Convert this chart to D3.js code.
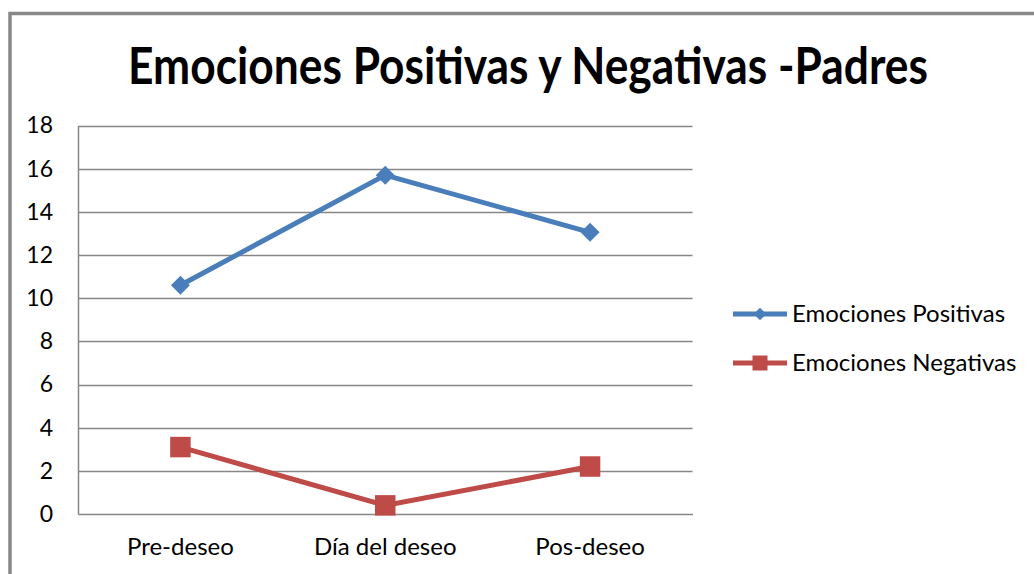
<!DOCTYPE html>
<html>
<head>
<meta charset="utf-8">
<script src="https://cdn.jsdelivr.net/npm/d3@7"></script>
<style>
  body { margin: 0; background: #fff; }
  svg { display: block; }
  .axis text { font-family: Lato, "Open Sans", sans-serif; fill: #000; }
</style>
</head>
<body>
<svg id="chart" width="1034" height="574"></svg>
<script>
// data
var categories = ['Pre-deseo', 'Día del deseo', 'Pos-deseo'];
var positivas = [10.6, 15.7, 13.05];
var negativas = [3.1, 0.4, 2.2];
var yTicks = [0, 2, 4, 6, 8, 10, 12, 14, 16, 18];
var seriesNames = ['Emociones Positivas', 'Emociones Negativas'];
var title = 'Emociones Positivas y Negativas -Padres';

var svg = d3.select('#chart');

var plot = { left: 78, top: 125.5, right: 692.5, bottom: 514 };

var x = d3.scaleBand()
  .domain(categories)
  .range([plot.left, plot.right]);

var y = d3.scaleLinear()
  .domain([0, 18])
  .range([plot.bottom, plot.top]);

// outer chart frame
svg.append('path')
  .attr('d', 'M10,574 L10,13.5 L1034,13.5')
  .attr('fill', 'none')
  .attr('stroke', '#888')
  .attr('stroke-width', 3.5);

// title, squeezed horizontally to the narrow look of the original
var titleG = svg.append('g');
var titleText = titleG.append('text')
  .attr('x', 0)
  .attr('y', 0)
  .attr('text-anchor', 'middle')
  .style('font-family', 'Lato, "Open Sans", sans-serif')
  .style('font-weight', 'bold')
  .style('font-size', '51px')
  .text(title);
var tw = titleText.node().getComputedTextLength();
var sx = Math.min(1, 800 / tw);
titleG.attr('transform', 'translate(528,84) scale(' + sx + ',1)');

// gridlines
svg.append('g')
  .selectAll('line')
  .data(yTicks.filter(function(d) { return d > 0; }))
  .enter()
  .append('line')
  .attr('x1', plot.left)
  .attr('x2', plot.right)
  .attr('y1', function(d) { return Math.round(y(d)) + 0.5; })
  .attr('y2', function(d) { return Math.round(y(d)) + 0.5; })
  .attr('stroke', '#868686')
  .attr('stroke-width', 1.5);

// y axis
var yAxis = svg.append('g')
  .attr('class', 'axis')
  .attr('transform', 'translate(' + plot.left + ',0)')
  .call(d3.axisLeft(y).tickValues(yTicks).tickSize(0).tickPadding(25));
yAxis.select('.domain').attr('stroke', '#868686').attr('stroke-width', 1.5);
yAxis.selectAll('text').style('font-size', '23px');

// x axis
var xAxis = svg.append('g')
  .attr('class', 'axis')
  .attr('transform', 'translate(0,' + plot.bottom + ')')
  .call(d3.axisBottom(x).tickSize(0).tickPadding(24));
xAxis.select('.domain').attr('stroke', '#868686').attr('stroke-width', 1.5);
xAxis.selectAll('text').style('font-size', '24px');

var cx = function(d, i) { return x(categories[i]) + x.bandwidth() / 2; };

var line = d3.line()
  .x(cx)
  .y(function(d) { return y(d); });

var series = [
  { name: seriesNames[0], values: positivas, color: '#4a7ebb', marker: 'diamond' },
  { name: seriesNames[1], values: negativas, color: '#be4b48', marker: 'square' }
];

series.forEach(function(s) {
  svg.append('path')
    .datum(s.values)
    .attr('d', line)
    .attr('fill', 'none')
    .attr('stroke', s.color)
    .attr('stroke-width', 5);

  var sym = s.marker === 'diamond'
    ? d3.symbol().type(d3.symbolSquare).size(180)
    : d3.symbol().type(d3.symbolSquare).size(420);

  svg.append('g')
    .selectAll('path')
    .data(s.values)
    .enter()
    .append('path')
    .attr('d', sym)
    .attr('transform', function(d, i) {
      return 'translate(' + cx(d, i) + ',' + y(d) + ')' + (s.marker === 'diamond' ? ' rotate(45)' : '');
    })
    .attr('fill', s.color);
});

// legend
var legend = svg.append('g')
  .selectAll('g')
  .data(series)
  .enter()
  .append('g')
  .attr('transform', function(d, i) { return 'translate(733,' + (314 + i * 49) + ')'; });

legend.append('line')
  .attr('x1', 0)
  .attr('x2', 54)
  .attr('stroke', function(d) { return d.color; })
  .attr('stroke-width', 5);

legend.append('path')
  .attr('d', function(d) {
    return d.marker === 'diamond'
      ? d3.symbol().type(d3.symbolSquare).size(80)()
      : d3.symbol().type(d3.symbolSquare).size(225)();
  })
  .attr('transform', function(d) {
    return 'translate(27,0)' + (d.marker === 'diamond' ? ' rotate(45)' : '');
  })
  .attr('fill', function(d) { return d.color; });

legend.append('text')
  .attr('x', 59)
  .attr('dy', '0.35em')
  .style('font-family', 'Lato, "Open Sans", sans-serif')
  .style('font-size', '24px')
  .text(function(d) { return d.name; });
</script>
</body>
</html>
